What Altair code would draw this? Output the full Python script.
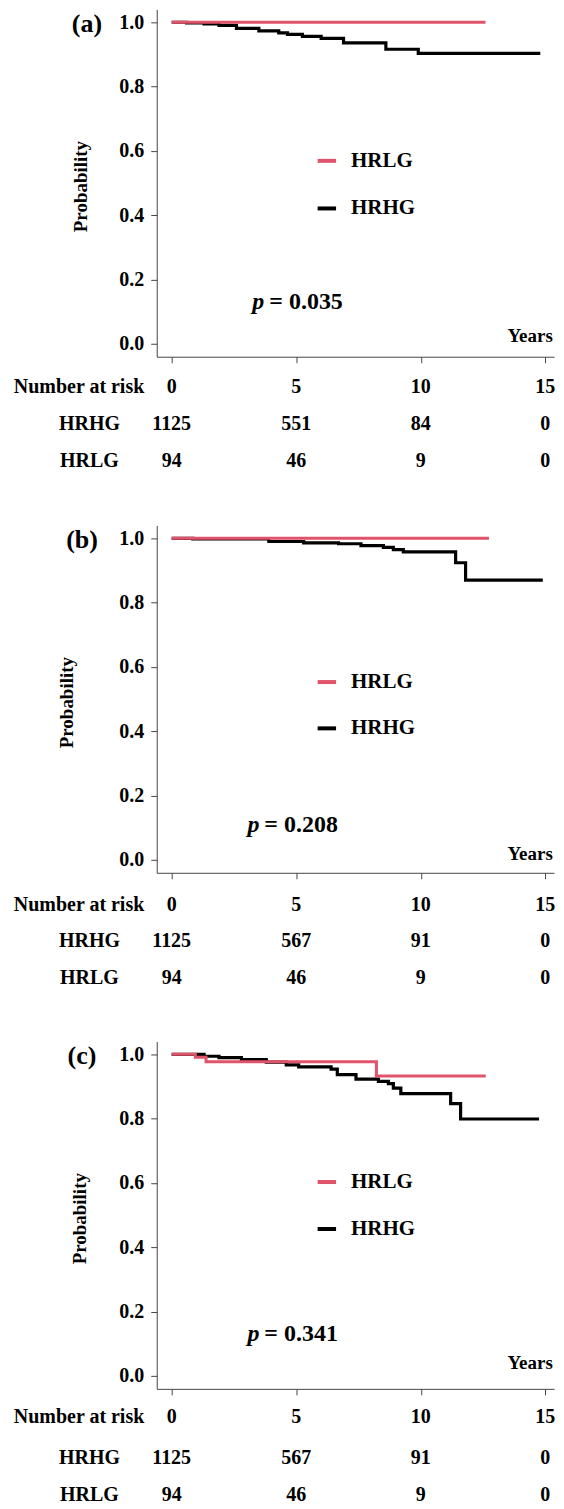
import altair as alt
import pandas as pd

FONT = "Liberation Serif"
RED = "#DF536B"

# ---------------- data ----------------
risk_times = [0, 5, 10, 15]

# panel (a)
a_black_t = [0, 0.6, 1.3, 1.9, 2.6, 3.5, 4.3, 4.65, 5.25, 6.0, 6.9, 8.6, 9.9, 14.8]
a_black_s = [1.0, 0.998, 0.995, 0.99, 0.981, 0.973, 0.967, 0.962, 0.956, 0.95, 0.936, 0.916, 0.903, 0.903]
a_red_t = [0, 12.6]
a_red_s = [1.0, 1.0]
a_risk_hrhg = [1125, 551, 84, 0]
a_risk_hrlg = [94, 46, 9, 0]
a_p = "0.035"

# panel (b)
b_black_t = [0, 0.85, 3.9, 5.3, 6.7, 7.6, 8.5, 8.9, 9.3, 11.4, 11.8, 14.9]
b_black_s = [1.0, 0.998, 0.99, 0.986, 0.983, 0.977, 0.972, 0.965, 0.958, 0.924, 0.870, 0.870]
b_red_t = [0, 12.74]
b_red_s = [1.0, 1.0]
b_risk_hrhg = [1125, 567, 91, 0]
b_risk_hrlg = [94, 46, 9, 0]
b_p = "0.208"

# panel (c)
c_black_t = [0, 1.3, 1.9, 2.8, 3.8, 4.6, 5.1, 6.4, 6.65, 7.4, 8.3, 8.7, 8.9, 9.2, 11.2, 11.6, 14.75]
c_black_s = [1.0, 0.994, 0.99, 0.984, 0.976, 0.967, 0.961, 0.954, 0.937, 0.923, 0.916, 0.909, 0.895, 0.878, 0.847, 0.799, 0.799]
c_red_t = [0, 0.95, 1.38, 8.22, 12.61]
c_red_s = [1.0, 0.991, 0.977, 0.933, 0.933]
c_risk_hrhg = [1125, 567, 91, 0]
c_risk_hrlg = [94, 46, 9, 0]
c_p = "0.341"

groups = ["HRLG", "HRHG"]

# ---------------- layout (positions in data units) ----------------
W, H = 398, 348
X_DOM = [-0.6, 15.35]
Y_DOM = [-0.04, 1.04]
PX_PER_UNIT = H / (Y_DOM[1] - Y_DOM[0])

layout = {
    "a": dict(label="(a)", lab_x=-3.4, prob_x=-3.64, leg_y=[0.569, 0.421], p_y=0.130,
              years_y=0.023, rows=[30, 67, 104]),
    "b": dict(label="(b)", lab_x=-3.6, prob_x=-4.2, leg_y=[0.553, 0.409], p_y=0.109,
              years_y=0.019, rows=[32, 68, 105], p_x=3.04),
    "c": dict(label="(c)", lab_x=-3.6, prob_x=-3.7, leg_y=[0.603, 0.457], p_y=0.131,
              years_y=0.041, rows=[28, 69, 106], p_x=3.04),
}

x_scale = alt.Scale(domain=X_DOM, nice=False, zero=False)
y_scale = alt.Scale(domain=Y_DOM, nice=False, zero=False)
x_axis = alt.Axis(values=risk_times, labels=False, title=None, tickSize=6, grid=False,
                  domainColor="#444444", tickColor="#444444")
y_axis = alt.Axis(values=[0, 0.2, 0.4, 0.6, 0.8, 1.0], format=".1f", title=None, tickSize=6,
                  grid=False, labelPadding=7, labelFont=FONT, labelFontSize=20,
                  labelFontWeight="bold", labelColor="black",
                  domainColor="#444444", tickColor="#444444")


def X():
    return alt.X("t:Q", scale=x_scale, axis=x_axis)


def Y():
    return alt.Y("s:Q", scale=y_scale, axis=y_axis)


def text_layer(df, size=20, align="center", italic=False, angle=0, dx=0):
    kw = dict(align=align, baseline="middle", font=FONT, fontSize=size,
              fontWeight="bold", color="black", dx=dx)
    if italic:
        kw["fontStyle"] = "italic"
    if angle:
        kw["angle"] = angle
    return alt.Chart(df).mark_text(**kw).encode(x=X(), y=Y(), text="txt:N")


def panel(key, bt, bs, rt, rs, hrhg, hrlg, pval):
    L = layout[key]
    black = alt.Chart(pd.DataFrame({"t": bt, "s": bs})).mark_line(
        interpolate="step-after", color="black", strokeWidth=3.2).encode(x=X(), y=Y())
    red = alt.Chart(pd.DataFrame({"t": rt, "s": rs})).mark_line(
        interpolate="step-after", color=RED, strokeWidth=3).encode(x=X(), y=Y())

    leg = pd.DataFrame({"t": [5.86, 5.86], "t2": [6.6, 6.6], "s": L["leg_y"],
                        "c": [RED, "black"], "txt": groups})
    leg_lines = alt.Chart(leg).mark_rule(strokeWidth=4, strokeCap="butt").encode(
        x=X(), x2="t2:Q", y=Y(), color=alt.Color("c:N", scale=None))
    leg_text = text_layer(leg.assign(t=7.2), size=21, align="left")

    px = L.get("p_x", 3.24)
    p1 = text_layer(pd.DataFrame({"t": [px], "s": [L["p_y"]], "txt": ["p"]}),
                    size=24, align="left", italic=True)
    p2 = text_layer(pd.DataFrame({"t": [px], "s": [L["p_y"]], "txt": ["= " + pval]}),
                    size=24, align="left", dx=17)

    years = text_layer(pd.DataFrame({"t": [15.3], "s": [L["years_y"]], "txt": ["Years"]}),
                       size=19, align="right")
    lab = text_layer(pd.DataFrame({"t": [L["lab_x"]], "s": [0.994], "txt": [L["label"]]}),
                     size=26)
    prob = text_layer(pd.DataFrame({"t": [L["prob_x"]], "s": [0.489], "txt": ["Probability"]}),
                      size=19, angle=270)

    row_y = [Y_DOM[0] - off / PX_PER_UNIT for off in L["rows"]]
    nums = pd.DataFrame({
        "t": risk_times * 3,
        "s": [row_y[0]] * 4 + [row_y[1]] * 4 + [row_y[2]] * 4,
        "txt": [str(v) for v in risk_times] + [str(v) for v in hrhg] + [str(v) for v in hrlg],
    })
    num_text = text_layer(nums, size=20)
    nar = text_layer(pd.DataFrame({"t": [-1.1], "s": [row_y[0]], "txt": ["Number at risk"]}),
                     size=20, align="right")
    rowlab = text_layer(pd.DataFrame({"t": [-3.3, -3.3], "s": row_y[1:], "txt": ["HRHG", "HRLG"]}),
                        size=20)

    return alt.layer(black, red, leg_lines, leg_text, p1, p2, years, lab, prob,
                     num_text, nar, rowlab).properties(width=W, height=H)


pa = panel("a", a_black_t, a_black_s, a_red_t, a_red_s, a_risk_hrhg, a_risk_hrlg, a_p)
pb = panel("b", b_black_t, b_black_s, b_red_t, b_red_s, b_risk_hrhg, b_risk_hrlg, b_p)
pc = panel("c", c_black_t, c_black_s, c_red_t, c_red_s, c_risk_hrhg, c_risk_hrlg, c_p)

chart = alt.vconcat(pa, pb, pc, spacing=169, bounds="flush").configure_view(
    stroke=None).properties(padding={"left": 5, "top": 0, "right": 0, "bottom": 0})

chart.save("out.html", embed_options={"renderer": "svg", "actions": False})
